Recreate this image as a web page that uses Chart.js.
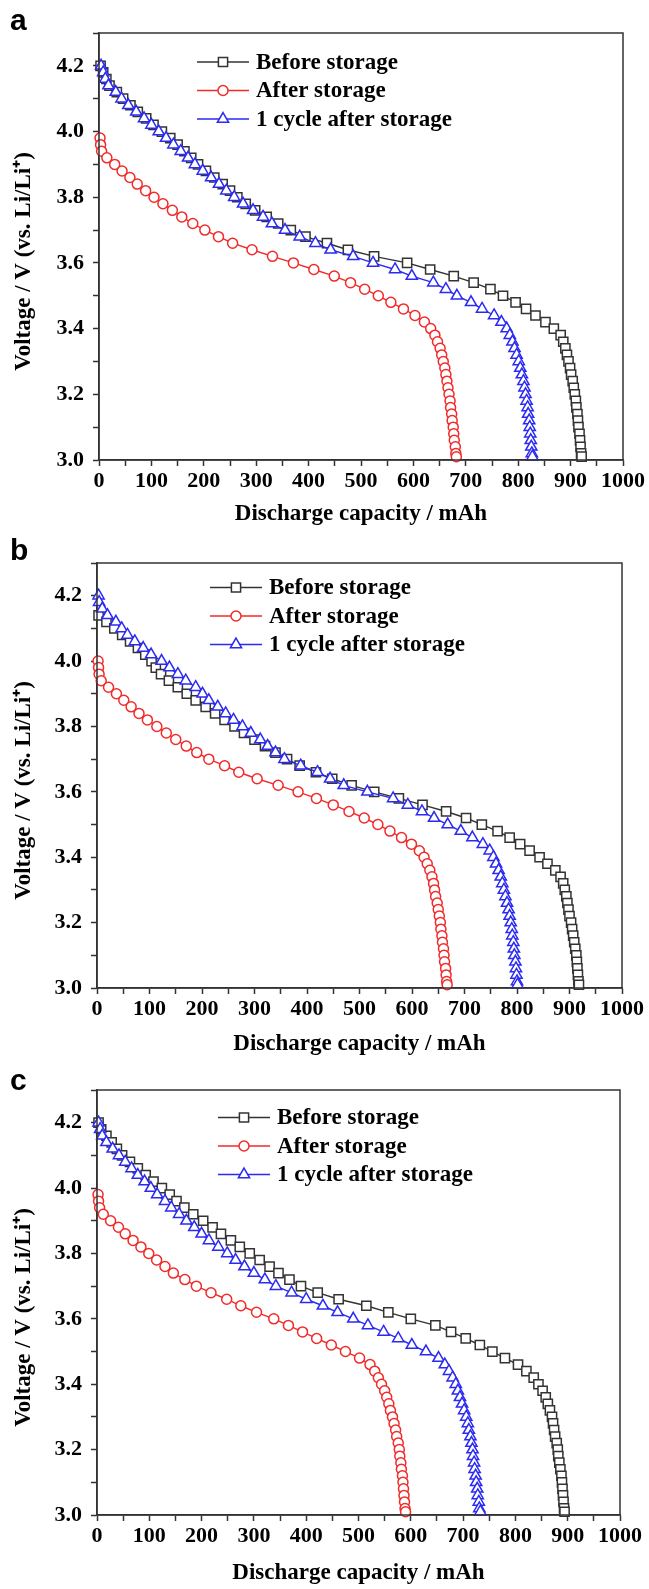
<!DOCTYPE html>
<html>
<head>
<meta charset="utf-8">
<script src="https://cdn.jsdelivr.net/npm/chart.js@4.4.1/dist/chart.umd.min.js"></script>
<style>
  body { margin: 0; background: #fff; }
  canvas { display: block; }
</style>
</head>
<body>
<canvas id="panelA" width="649" height="530"></canvas>
<canvas id="panelB" width="649" height="530"></canvas>
<canvas id="panelC" width="649" height="529"></canvas>
<script>
// voltage levels at which the markers sit (V), top of discharge down to cut-off
const volts = [
  4.2, 4.18, 4.16, 4.14, 4.12, 4.1, 4.08, 4.06, 4.04, 4.02,
  4.0, 3.98, 3.96, 3.94, 3.92, 3.9, 3.88, 3.86, 3.84, 3.82,
  3.8, 3.78, 3.76, 3.74, 3.72, 3.7, 3.68, 3.66, 3.64, 3.62,
  3.6, 3.58, 3.56, 3.54, 3.52, 3.5, 3.48, 3.46, 3.44, 3.42,
  3.4, 3.38, 3.36, 3.34, 3.32, 3.3, 3.28, 3.26, 3.24, 3.22,
  3.2, 3.18, 3.16, 3.14, 3.12, 3.1, 3.08, 3.06, 3.04, 3.02,
  3.01
]

// discharge capacity (mAh), panel a
const capA_before = [3, 8, 14, 20, 34, 46, 60, 74, 90, 104,
  120, 136, 150, 163, 176, 189, 204, 220, 236, 250,
  264, 280, 298, 320, 342, 366, 394, 435, 475, 525,
  588, 632, 677, 715, 747, 771, 795, 815, 833, 852,
  868, 881, 886, 890, 893, 896, 899, 901, 904, 906,
  908, 910, 911, 913, 914, 915, 917, 918, 919, 920,
  921]
const capA_after = [2, 3, 5, 15, 30, 44, 59, 73, 89,
  105, 122, 140, 158, 179, 202, 228, 255, 292, 331,
  371, 410, 449, 480, 507, 533, 557, 581, 603, 621,
  633, 641, 646, 651, 654, 657, 660, 662, 664, 666,
  668, 670, 671, 673, 674, 676, 677, 678, 680, 681,
  682]
const capA_cycle = [4, 8, 12, 18, 32, 43, 56, 71, 86, 100,
  114, 128, 142, 156, 170, 183, 198, 214, 229, 243,
  258, 275, 294, 313, 330, 355, 383, 413, 442, 485,
  523, 565, 597, 638, 662, 683, 710, 731, 754, 768,
  778, 784, 789, 793, 797, 801, 804, 807, 810, 812,
  814, 816, 818, 819, 821, 822, 823, 824, 825, 826,
  827]

// panel b
const capB_before = [3, 18, 33, 48, 63, 78, 92,
  104, 112, 122, 137, 154, 171, 188, 207, 225, 243,
  262, 280, 300, 320, 340, 362, 386, 417, 448, 485,
  528, 575, 620, 665, 703, 733, 763, 786, 806, 824,
  843, 858, 873, 883, 888, 891, 894, 896, 898, 900,
  903, 905, 907, 909, 911, 913, 914, 915, 916, 917,
  918]
const capB_after = [2, 3, 4, 8, 22, 37, 51, 65, 80, 96,
  114, 132, 150, 170, 190, 213, 243, 270, 305, 345,
  383, 418, 450, 480, 509, 535, 558, 580, 599, 614,
  623, 629, 634, 638, 641, 643, 645, 648, 650, 652,
  654, 655, 657, 658, 660, 661, 662, 664, 665, 666,
  667]
const capB_cycle = [3, 4, 10, 20, 36, 47, 58, 72, 88, 103,
  123, 138, 154, 169, 188, 201, 213, 230, 245, 260,
  277, 293, 311, 325, 340, 357, 388, 420, 444, 470,
  515, 564, 592, 619, 642, 668, 693, 715, 735, 748,
  755, 760, 765, 769, 772, 775, 778, 781, 784, 786,
  788, 790, 791, 793, 794, 795, 797, 798, 799, 800,
  801]

// panel c
const capC_before = [3, 8, 18, 28, 38, 48, 63, 78, 93, 108,
  124, 139, 152, 167, 184, 203, 221, 237, 256, 273,
  292, 311, 330, 347, 368, 390, 422, 462, 515, 557,
  600, 647, 677, 705, 732, 756, 780, 805, 821, 835,
  844, 852, 858, 862, 866, 870, 872, 874, 876, 879,
  881, 882, 884, 886, 888, 889, 890, 891, 892, 893,
  894]
const capC_after = [2, 3, 5, 12, 26, 41, 54, 69, 84,
  99, 114, 130, 146, 168, 190, 218, 248, 275, 305,
  338, 366, 393, 420, 448, 475, 502, 522, 531, 538,
  544, 550, 554, 558, 561, 565, 568, 571, 573, 576,
  578, 579, 581, 582, 584, 585, 586, 587, 588, 589,
  590]
const capC_cycle = [3, 6, 10, 18, 30, 42, 54, 66, 78, 91,
  103, 115, 130, 142, 157, 171, 186, 200, 214, 232,
  249, 265, 282, 300, 321, 342, 372, 400, 432, 460,
  490, 518, 548, 576, 602, 629, 653, 665, 673, 680,
  686, 690, 694, 698, 702, 706, 709, 711, 714, 716,
  718, 719, 721, 722, 724, 725, 727, 728, 730, 731,
  733]

const seriesLabels = ['Before storage', 'After storage', '1 cycle after storage']
const seriesColors = ['#333333', '#f22a2a', '#2a2af2']
const seriesMarkers = ['rect', 'circle', 'triangle']
const markerSizes = [6.5, 5, 6.5]

const xTitle = 'Discharge capacity / mAh'
const yTitle = 'Voltage / V (vs. Li/Li\u207A)'

const serif = '"Liberation Serif", "Times New Roman", serif'
const tickFont = { family: serif, size: 22, weight: 'bold' }
const titleFont = { family: serif, size: 23, weight: 'bold' }

const framePlugin = {
  id: 'frame',
  afterDraw(chart, args, opts) {
    const { ctx, chartArea: a } = chart
    ctx.save()
    ctx.strokeStyle = '#333'
    ctx.lineWidth = 1.5
    ctx.strokeRect(a.left, a.top, a.right - a.left, a.bottom - a.top)

    ctx.fillStyle = '#000'
    ctx.font = 'bold 30px "Liberation Sans", Arial, sans-serif'
    ctx.textBaseline = 'alphabetic'
    ctx.fillText(opts.letter, 10, 30)

    // y axis title, sits a little below the middle of the axis like the original
    ctx.save()
    ctx.translate(24, (a.top + a.bottom) / 2 + 15)
    ctx.rotate(-Math.PI / 2)
    ctx.font = 'bold 23px ' + serif
    ctx.textAlign = 'center'
    ctx.textBaseline = 'middle'
    ctx.fillText(yTitle, 0, 0)
    ctx.restore()

    ctx.font = 'bold 23px ' + serif
    ctx.textBaseline = 'middle'
    chart.data.datasets.forEach((ds, i) => {
      const x = opts.legendX
      const y = opts.legendY + i * 28.5
      ctx.strokeStyle = ds.borderColor
      ctx.lineWidth = 1.5
      ctx.beginPath()
      ctx.moveTo(x, y)
      ctx.lineTo(x + 52, y)
      ctx.stroke()
      ctx.fillStyle = '#fff'
      Chart.helpers.drawPoint(ctx, { pointStyle: ds.pointStyle, radius: ds.pointRadius, borderWidth: 1.5, rotation: 0 }, x + 26, y)
      ctx.fillStyle = '#000'
      ctx.fillText(ds.label, x + 59, y + 1)
    })
    ctx.restore()
  }
}

function makePanel(id, letter, caps, startIdx, L) {
  const datasets = caps.map((cap, s) => {
    const v = volts.slice(startIdx[s])
    return {
      label: seriesLabels[s],
      data: cap.map((c, i) => ({ x: c, y: v[i] })),
      borderColor: seriesColors[s],
      borderWidth: 1.4,
      pointStyle: seriesMarkers[s],
      pointRadius: markerSizes[s],
      pointBorderColor: seriesColors[s],
      pointBackgroundColor: '#fff',
      pointBorderWidth: 1.5,
      tension: 0,
      clip: false,
      order: 3 - s
    }
  })

  new Chart(document.getElementById(id), {
    type: 'line',
    data: { datasets },
    plugins: [framePlugin],
    options: {
      responsive: false,
      animation: false,
      events: [],
      layout: { padding: { top: L.top, right: L.right, left: 0, bottom: 0 } },
      plugins: {
        legend: { display: false },
        tooltip: { enabled: false },
        frame: { letter, legendX: L.legendX, legendY: L.legendY }
      },
      scales: {
        x: {
          type: 'linear',
          min: 0,
          max: 1000,
          afterFit: s => { s.height = L.xHeight },
          ticks: {
            stepSize: 50,
            autoSkip: false,
            maxRotation: 0,
            color: '#000',
            font: tickFont,
            padding: 2,
            callback: v => (v % 100 === 0 ? String(v) : '')
          },
          grid: { drawOnChartArea: false, tickLength: 6, tickColor: '#333', tickWidth: 1.5 },
          border: { color: '#333', width: 1.5 },
          title: { display: true, text: xTitle, color: '#000', font: titleFont, padding: { top: 0, bottom: 2 } }
        },
        y: {
          type: 'linear',
          min: 3.0,
          max: 4.3,
          afterFit: s => { s.width = L.yWidth },
          ticks: {
            stepSize: 0.1,
            autoSkip: false,
            color: '#000',
            font: tickFont,
            padding: 9,
            callback: v => (Math.round(v * 10) % 2 === 0 ? v.toFixed(1) : '')
          },
          grid: { drawOnChartArea: false, tickLength: 6, tickColor: '#333', tickWidth: 1.5 },
          border: { color: '#333', width: 1.5 }
        }
      }
    }
  })
}

makePanel('panelA', 'a', [capA_before, capA_after, capA_cycle], [0, 11, 0],
  { top: 33, right: 26, yWidth: 99, xHeight: 70, legendX: 197, legendY: 62 })
makePanel('panelB', 'b', [capB_before, capB_after, capB_cycle], [3, 10, 0],
  { top: 33, right: 27, yWidth: 97, xHeight: 72, legendX: 210, legendY: 57.5 })
makePanel('panelC', 'c', [capC_before, capC_after, capC_cycle], [0, 11, 0],
  { top: 30, right: 29, yWidth: 97, xHeight: 74, legendX: 218, legendY: 57.5 })
</script>
</body>
</html>
